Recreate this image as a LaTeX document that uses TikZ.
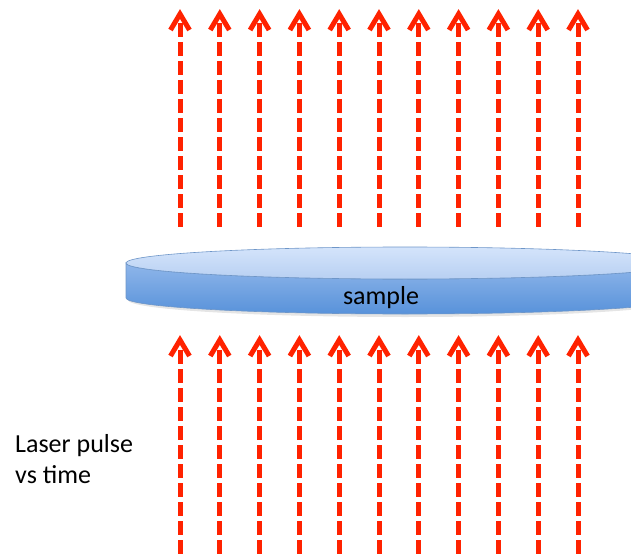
\documentclass[tikz,border=0pt]{standalone}
\usepackage{fontspec}
\setmainfont{Carlito}
\definecolor{laser}{RGB}{255,34,0}
\definecolor{sideTop}{RGB}{143,182,234}
\definecolor{sideBot}{RGB}{88,146,218}
\definecolor{topTop}{RGB}{212,228,251}
\definecolor{topBot}{RGB}{184,208,242}
\definecolor{diskEdge}{RGB}{110,150,200}
\tikzset{
  beamup/.style={draw=laser, line width=5bp, dash pattern=on 14bp off 5bp, dash phase=10bp},
  beamlow/.style={draw=laser, line width=5bp, dash pattern=on 14bp off 5bp, dash phase=9bp},
  beamhead/.style={draw=laser, line width=5bp, line join=miter, line cap=butt},
  lbl/.style={font=\fontsize{26bp}{31bp}\selectfont, inner sep=0pt}
}
\begin{document}
\begin{tikzpicture}[x=1bp,y=-1bp]
\useasboundingbox (0,0) rectangle (631,555);
\begin{scope}
\clip (0,0) rectangle (631,555);
% soft shadow
\fill[black, opacity=0.10] (128,300) arc[start angle=180, end angle=0, x radius=277, y radius=17] -- cycle;
% disk side
\shade[top color=sideTop, bottom color=sideBot, draw=diskEdge, line width=0.6bp]
  (126,263) -- (126,298) arc[start angle=180, end angle=0, x radius=279, y radius=16]
  -- (684,263) arc[start angle=0, end angle=180, x radius=279, y radius=16] -- cycle;
% disk top
\shade[top color=topTop, bottom color=topBot, draw=diskEdge, line width=0.6bp]
  (405,263) ellipse[x radius=279, y radius=16];
\end{scope}
\node[lbl, anchor=base] (sample) at (381,304) {sample};
\node[lbl, anchor=base west] (laser1) at (15,452) {Laser pulse};
\node[lbl, anchor=base west] (laser2) at (15,483) {vs time};
\foreach \i in {0,...,10} {
  \pgfmathsetmacro\xx{180+39.8*\i}
  \coordinate (ut\i) at (\xx,14);
  \coordinate (ub\i) at (\xx,228);
  \coordinate (lt\i) at (\xx,340);
  \coordinate (lb\i) at (\xx,560);
  \draw[beamup] (ut\i) -- (ub\i);
  \draw[beamhead] ([shift={(-9.5,16)}]ut\i) -- (ut\i) -- ([shift={(9.5,16)}]ut\i);
  \draw[beamlow] (lt\i) -- (lb\i);
  \draw[beamhead] ([shift={(-9.5,16)}]lt\i) -- (lt\i) -- ([shift={(9.5,16)}]lt\i);
}
\end{tikzpicture}
\end{document}
